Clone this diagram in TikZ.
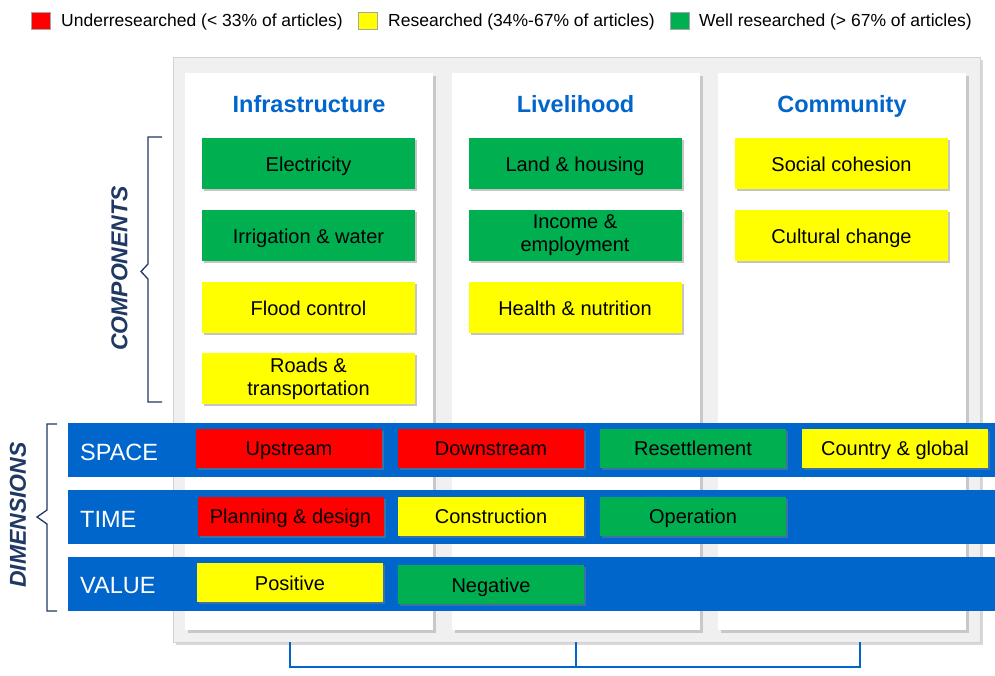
\documentclass[tikz,border=0pt]{standalone}
\usepackage{fontspec}
\setmainfont{Liberation Sans}
\usetikzlibrary{shadows}

\definecolor{redR}{RGB}{255,0,0}
\definecolor{yellowR}{RGB}{255,255,0}
\definecolor{greenR}{RGB}{0,176,80}
\definecolor{barblue}{RGB}{0,102,204}
\definecolor{navy}{RGB}{31,56,100}
\definecolor{panelgray}{RGB}{240,240,240}

\tikzset{
  box/.style={minimum width=213pt, minimum height=51pt, inner sep=0pt, align=center,
    font=\fontsize{20}{23}\selectfont,
    drop shadow={shadow xshift=2pt, shadow yshift=-2pt, opacity=0.45}},
  cell/.style={box, text height=15pt, text depth=-2pt},
  twoline/.style={box, execute at begin node={\rule{0pt}{20pt}}},
  dimcell/.style={cell, minimum width=186pt, minimum height=39pt},
  under/.style={fill=redR},
  res/.style={fill=yellowR},
  well/.style={fill=greenR},
  column/.style={fill=white, minimum width=248pt, minimum height=557pt, inner sep=0pt,
    drop shadow={shadow xshift=3pt, shadow yshift=-3pt, opacity=0.35}},
  head/.style={text=barblue, anchor=base, inner sep=0pt, font=\fontsize{23.5}{27}\selectfont\bfseries},
  bar/.style={fill=barblue, minimum width=927pt, minimum height=54pt, inner sep=0pt, anchor=west},
  barlabel/.style={text=white, anchor=base west, inner sep=0pt, font=\fontsize{23.5}{27}\selectfont},
  sidelabel/.style={text=navy, rotate=90, font=\fontsize{23}{27}\selectfont\bfseries\itshape},
  legbox/.style={minimum width=19pt, minimum height=17pt, inner sep=0pt, draw=gray!70},
  legtext/.style={anchor=base west, inner sep=0pt, font=\fontsize{17.5}{20}\selectfont}
}

\begin{document}
\begin{tikzpicture}[x=1pt, y=-1pt]
\useasboundingbox (0,0) rectangle (995,675);

% legend
\node[legbox,under] (lred) at (41,20.5) {};
\node[legtext] (tred) at (61,26.7) {Underresearched (< 33\% of articles)};
\node[legbox,res] (lyel) at (367.5,20.5) {};
\node[legtext] (tyel) at (388,26.7) {Researched (34\%-67\% of articles)};
\node[legbox,well] (lgrn) at (679.5,20.5) {};
\node[legtext] (tgrn) at (699,26.7) {Well researched (> 67\% of articles)};

% panel and columns
\filldraw[fill=panelgray, draw=gray!35, drop shadow={shadow xshift=3pt, shadow yshift=-3pt, opacity=0.3}] (173,57) rectangle (980,642);
\node[column] (infra) at (309,351.5) {};
\node[column] (live) at (575.5,351.5) {};
\node[column] (comm) at (842,351.5) {};

\node[head] (hinfra) at (309,112) {Infrastructure};
\node[head] (hlive) at (575.5,112) {Livelihood};
\node[head] (hcomm) at (842,112) {Community};

% components
\node[cell,well] (elec) at (308.5,163.5) {Electricity};
\node[cell,well] (irri) at (308.5,235.5) {Irrigation \& water};
\node[cell,res] (flood) at (308.5,307.5) {Flood control};
\node[twoline,res] (roads) at (308.5,378.5) {Roads \&\\transportation};

\node[cell,well] (land) at (575,163.5) {Land \& housing};
\node[twoline,well] (income) at (575,235.5) {Income \&\\employment};
\node[cell,res] (health) at (575,307.5) {Health \& nutrition};

\node[cell,res] (social) at (841.5,163.5) {Social cohesion};
\node[cell,res] (cult) at (841.5,235.5) {Cultural change};

% dimensions
\node[bar] (space) at (68,450) {};
\node[bar] (time) at (68,517) {};
\node[bar] (value) at (68,584) {};
\node[barlabel] (lspace) at (80,460) {SPACE};
\node[barlabel] (ltime) at (80,527) {TIME};
\node[barlabel] (lvalue) at (80,593) {VALUE};

\node[dimcell,under] (up) at (289,448) {Upstream};
\node[dimcell,under] (down) at (491,448) {Downstream};
\node[dimcell,well] (resett) at (693,448) {Resettlement};
\node[dimcell,res] (country) at (895,448) {Country \& global};

\node[dimcell,under] (plan) at (290.5,516) {Planning \& design};
\node[dimcell,res] (constr) at (491,516) {Construction};
\node[dimcell,well] (oper) at (693,516) {Operation};

\node[dimcell,res] (pos) at (290,582.5) {Positive};
\node[dimcell,well] (neg) at (491,584.5) {Negative};

% side brackets
\draw[navy, line width=1.3pt] (162,137) -- (148,137) -- (148,264) -- (141,271.5) -- (148,279) -- (148,402) -- (162,402);
\node[sidelabel] (lcomp) at (119.5,268.5) {COMPONENTS};
\draw[navy, line width=1.3pt] (57,424) -- (47,424) -- (47,510) -- (37,517) -- (47,524) -- (47,611) -- (57,611);
\node[sidelabel] (ldim) at (18,515) {DIMENSIONS};

% bottom bracket
\coordinate (b1) at (290,642);
\coordinate (b2) at (576,642);
\coordinate (b3) at (860,642);
\draw[barblue, line width=1.5pt] (b1) -- ++(0,25) -- ([yshift=-25pt]b3) -- (b3);
\draw[barblue, line width=1.5pt] (b2) -- ++(0,25);

\end{tikzpicture}
\end{document}
